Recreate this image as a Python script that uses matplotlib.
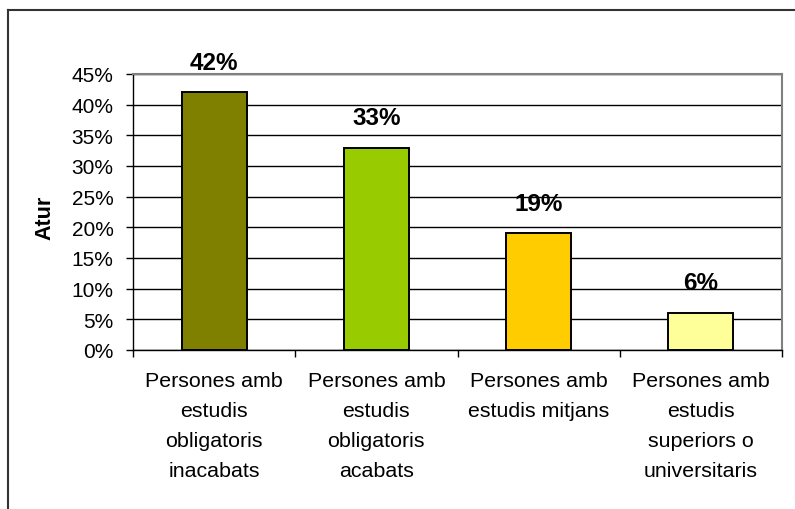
import matplotlib
matplotlib.use("Agg")
import matplotlib.pyplot as plt
from matplotlib.lines import Line2D
from matplotlib.ticker import MultipleLocator, FuncFormatter

# chart data
categories = ["Persones amb\nestudis\nobligatoris\ninacabats",
              "Persones amb\nestudis\nobligatoris\nacabats",
              "Persones amb\nestudis mitjans",
              "Persones amb\nestudis\nsuperiors o\nuniversitaris"]
values = [42, 33, 19, 6]
bar_colors = ["#808000", "#99CC00", "#FFCC00", "#FFFF99"]

plt.rcParams["font.family"] = ["Liberation Sans", "DejaVu Sans"]

fig = plt.figure(figsize=(7.95, 5.10), dpi=100)
fig.patch.set_facecolor("white")

# outer chart frame (cut off at right and bottom like the screenshot)
fig.add_artist(Line2D([8/795, 8/795], [0, 1 - 11/510], transform=fig.transFigure,
                      color="#333333", lw=1.5))
fig.add_artist(Line2D([8/795, 1], [1 - 11/510, 1 - 11/510], transform=fig.transFigure,
                      color="#333333", lw=1.5))

ax = fig.add_axes([133/795, 1 - 351/510, (782 - 133)/795, (351 - 75)/510])

x = range(len(values))
ax.bar(x, values, width=0.4, color=bar_colors, edgecolor="black", linewidth=1.4, zorder=3)

ax.set_xlim(-0.5, len(values) - 0.5)
ax.set_ylim(0, 45)
ax.yaxis.set_major_locator(MultipleLocator(5))
ax.yaxis.set_major_formatter(FuncFormatter(lambda v, p: "%d%%" % v))
ax.yaxis.grid(True, color="black", lw=1.0, zorder=0)

# category ticks at boundaries, labels centred under bars
ax.set_xticks([i - 0.5 for i in range(len(values) + 1)])
ax.set_xticklabels([])
ax.set_xticks(list(x), minor=True)
ax.set_xticklabels(categories, minor=True, fontsize=15.4, linespacing=1.73)
ax.tick_params(axis="x", which="major", direction="out", length=5, width=1)
ax.tick_params(axis="x", which="minor", length=0, pad=15)
ax.tick_params(axis="y", direction="out", length=5, width=1, labelsize=15, pad=9)

for side in ["top", "right"]:
    ax.spines[side].set_color("#808080")
    ax.spines[side].set_linewidth(1.5)
for side in ["left", "bottom"]:
    ax.spines[side].set_color("black")
    ax.spines[side].set_linewidth(1.0)

for i, v in enumerate(values):
    ax.annotate("%d%%" % v, (i, v), xytext=(0, 13.5), textcoords="offset points",
                ha="center", va="bottom", fontsize=17.5, fontweight="bold")

fig.text(45/795, 1 - 218/510, "Atur", rotation=90, ha="center", va="center",
         fontsize=15.5, fontweight="bold")

fig.savefig("out.png", dpi=100)
